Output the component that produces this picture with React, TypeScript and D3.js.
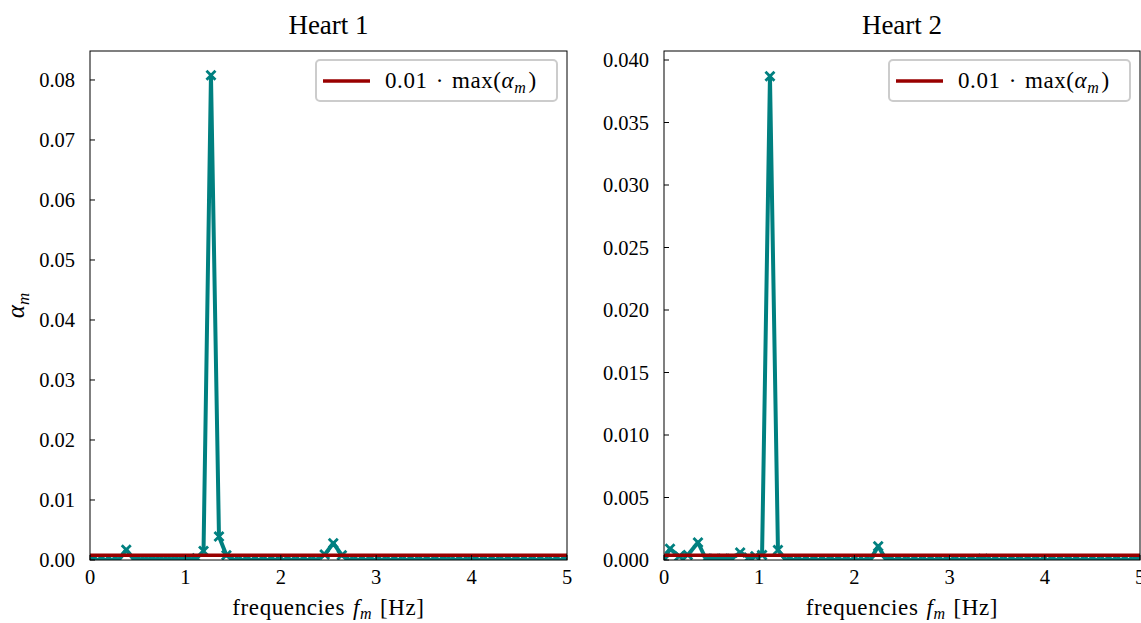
import React, { useEffect } from 'react';
import * as d3 from 'd3';

const titles = ['Heart 1', 'Heart 2'];
const xTicks = [0, 1, 2, 3, 4, 5];
const yTicks1 = [0, 0.01, 0.02, 0.03, 0.04, 0.05, 0.06, 0.07, 0.08];
const yTicks2 = [0, 0.005, 0.01, 0.015, 0.02, 0.025, 0.03, 0.035, 0.04];

const freq1 = [
  0, 0.08, 0.16, 0.23, 0.30, 0.38, 0.46, 0.53, 0.61, 0.69,
  0.77, 0.85, 0.93, 1.00, 1.06, 1.12, 1.19, 1.268, 1.352, 1.43,
  1.51, 1.60, 1.69, 1.77, 1.86, 1.94, 2.03, 2.11, 2.20, 2.28,
  2.37, 2.46, 2.55, 2.64, 2.72, 2.81, 2.89, 2.98, 3.06, 3.15,
  3.23, 3.32, 3.40, 3.49, 3.57, 3.66, 3.74, 3.83, 3.91, 4.00,
  4.08, 4.17, 4.25, 4.34, 4.42, 4.51, 4.59, 4.68, 4.76, 4.85,
  4.93, 5.0,
];
const alpha1 = [
  0, 0, 0, 0, 0, 0.0017, 0.0001, 0.0001, 0.0001, 0.0001,
  0.0001, 0.0001, 0.0001, 0.0001, 0.0001, 0.0003, 0.0015, 0.0808, 0.0039, 0.0008,
  0, 0, 0, 0, 0, 0, 0, 0, 0, 0,
  0, 0.0009, 0.0028, 0.0008, 0, 0, 0, 0, 0, 0,
  0, 0, 0, 0, 0, 0, 0.0001, 0, 0, 0,
  0, 0, 0, 0, 0, 0, 0, 0, 0, 0,
  0, 0,
];

const freq2 = [
  0, 0.063, 0.16, 0.25, 0.357, 0.44, 0.53, 0.62, 0.71, 0.80,
  0.89, 0.96, 1.03, 1.113, 1.197, 1.28, 1.36, 1.45, 1.53, 1.62,
  1.70, 1.79, 1.87, 1.96, 2.04, 2.10, 2.165, 2.25, 2.335, 2.42,
  2.50, 2.59, 2.67, 2.76, 2.84, 2.93, 3.01, 3.10, 3.18, 3.27,
  3.35, 3.44, 3.52, 3.61, 3.69, 3.78, 3.86, 3.95, 4.03, 4.12,
  4.20, 4.29, 4.37, 4.46, 4.54, 4.63, 4.71, 4.80, 4.88, 4.97,
  5.0,
];
const alpha2 = [
  0, 0.0009, 0.0003, 0.0004, 0.0014, 0.0001, 0.0001, 0.0001, 0.0001, 0.0006,
  0.0002, 0.0003, 0.0004, 0.0387, 0.0008, 0, 0, 0, 0, 0,
  0, 0, 0, 0, 0, 0, 0, 0.0011, 0, 0,
  0, 0, 0, 0, 0, 0, 0, 0, 0, 0,
  0.0001, 0, 0, 0, 0, 0, 0, 0, 0, 0,
  0, 0, 0, 0, 0, 0, 0, 0, 0, 0,
  0,
];

const FONT = '"Liberation Serif", "DejaVu Serif", serif';
const TEAL = '#008080';
const RED = '#990000';

type PanelProps = {
  id: string;
  title: string;
  freq: number[];
  alpha: number[];
  yTicks: number[];
  yFmt: string;
  yMax: number;
  left: number;
  right: number;
  showYLabel: boolean;
};

function Panel({ id, title, freq, alpha, yTicks, yFmt, yMax, left, right, showYLabel }: PanelProps) {
  const top = 51;
  const bottom = 560;
  const x = d3.scaleLinear().domain([0, 5]).range([left, right]);
  const y = d3.scaleLinear().domain([0, yMax]).range([bottom, top]);
  const pts = freq.map((f, i) => [f, alpha[i] ?? 0] as [number, number]);
  const line = d3.line<[number, number]>().x(d => x(d[0])).y(d => y(d[1]));
  const thr = 0.01 * (d3.max(alpha) ?? 0);
  const fmt = d3.format(yFmt);
  const cx = (left + right) / 2;
  const ms = 4.5;
  const legX = right - 251;
  return (
    <g>
      <defs>
        <clipPath id={id}>
          <rect x={left} y={top} width={right - left} height={bottom - top} />
        </clipPath>
      </defs>
      <g clipPath={`url(#${id})`}>
        <path d={line(pts) ?? ''} fill="none" stroke={TEAL} strokeWidth={4} strokeLinejoin="round" />
        {pts.map((p, i) => (
          <path
            key={i}
            transform={`translate(${x(p[0])},${y(p[1])})`}
            d={`M${-ms},${-ms}L${ms},${ms}M${-ms},${ms}L${ms},${-ms}`}
            stroke={TEAL}
            strokeWidth={2.8}
            fill="none"
          />
        ))}
        <line x1={left} x2={right} y1={y(thr)} y2={y(thr)} stroke={RED} strokeWidth={3.5} />
      </g>
      <rect x={left} y={top} width={right - left} height={bottom - top} fill="none" stroke="#000" strokeWidth={1} />
      {xTicks.map(t => (
        <g key={'x' + t}>
          <line x1={x(t)} x2={x(t)} y1={bottom} y2={bottom - 5} stroke="#000" strokeWidth={1} />
          <text x={x(t)} y={584} textAnchor="middle" fontSize={20.5} fontFamily={FONT} fill="#000">{t}</text>
        </g>
      ))}
      {yTicks.map(t => (
        <g key={'y' + t}>
          <line x1={left} x2={left + 5} y1={y(t)} y2={y(t)} stroke="#000" strokeWidth={1} />
          <text x={left - 15} y={y(t)} dy="0.35em" textAnchor="end" fontSize={20.5} fontFamily={FONT} fill="#000">{fmt(t)}</text>
        </g>
      ))}
      <text x={cx} y={34} textAnchor="middle" fontSize={27} fontFamily={FONT} fill="#000">{title}</text>
      <text x={cx} y={615} textAnchor="middle" fontSize={23} letterSpacing={0.6} fontFamily={FONT} fill="#000">
        frequencies<tspan dx={8} fontStyle="italic">f</tspan>
        <tspan fontStyle="italic" fontSize={16} dy={4}>m</tspan>
        <tspan dy={-4} dx={8}>[Hz]</tspan>
      </text>
      {showYLabel && (
        <text transform={`translate(24,${(top + bottom) / 2}) rotate(-90)`} textAnchor="middle" fontSize={25} fontFamily={FONT} fill="#000">
          <tspan fontStyle="italic">α</tspan>
          <tspan fontStyle="italic" fontSize={17} dy={5}>m</tspan>
        </text>
      )}
      <rect x={legX} y={60} width={241} height={41} rx={4} fill="#fff" fillOpacity={0.8} stroke="#cccccc" strokeWidth={2} />
      <line x1={legX + 7} x2={legX + 54} y1={81} y2={81} stroke={RED} strokeWidth={3.5} />
      <text x={legX + 69} y={88} fontSize={23} letterSpacing={0.6} fontFamily={FONT} fill="#000">
        0.01<tspan dx={8}>·</tspan>
        <tspan dx={8}>max(</tspan>
        <tspan fontStyle="italic">α</tspan>
        <tspan fontStyle="italic" fontSize={16} dy={5}>m</tspan>
        <tspan dy={-5} dx={2}>)</tspan>
      </text>
    </g>
  );
}

export default function App() {
  useEffect(() => {
    document.body.style.margin = '0';
  }, []);
  return (
    <svg width={1141} height={623} style={{ position: 'absolute', left: 0, top: 0, background: '#fff' }}>
      <rect width={1141} height={623} fill="#fff" />
      <Panel id="c1" title={titles[0]} freq={freq1} alpha={alpha1} yTicks={yTicks1} yFmt=".2f" yMax={0.08483} left={90} right={567} showYLabel={true} />
      <Panel id="c2" title={titles[1]} freq={freq2} alpha={alpha2} yTicks={yTicks2} yFmt=".3f" yMax={0.04072} left={664} right={1140} showYLabel={false} />
    </svg>
  );
}
